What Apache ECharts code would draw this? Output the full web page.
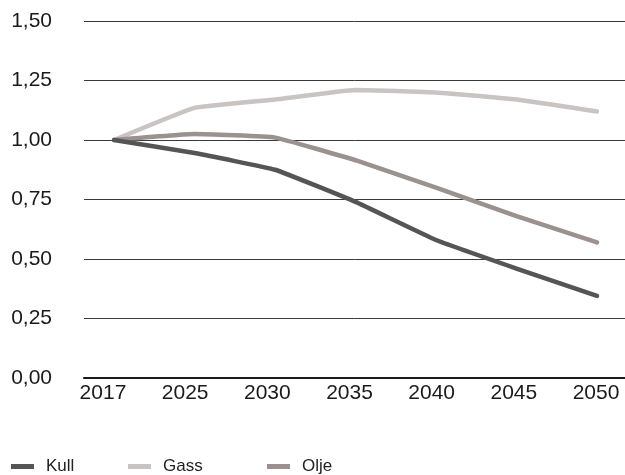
<!DOCTYPE html>
<html>
<head>
<meta charset="utf-8">
<style>
  html, body { margin: 0; padding: 0; background: #fff; }
  #chart { width: 625px; height: 475px; }
</style>
<script src="https://cdn.jsdelivr.net/npm/echarts@6/dist/echarts.min.js"></script>
</head>
<body>
<div id="chart"></div>
<script>
// Index of fuel use relative to 2017
const years = ['2017', '2025', '2030', '2035', '2040', '2045', '2050'];
const kull = [1.00, 0.945, 0.875, 0.74, 0.58, 0.46, 0.345];
const gass = [1.00, 1.135, 1.17, 1.21, 1.20, 1.17, 1.12];
const olje = [1.00, 1.025, 1.01, 0.915, 0.80, 0.68, 0.57];
const yTicks = [0, 0.25, 0.5, 0.75, 1.0, 1.25, 1.5];

const FONT = 'Liberation Sans';
const COLORS = { Kull: '#555555', Gass: '#c9c4c2', Olje: '#9b928f' };

const toPairs = arr => arr.map((v, i) => [i, v]);

function lineSeries(name, data) {
  return {
    name: name,
    type: 'line',
    xAxisIndex: 0,
    data: toPairs(data),
    symbol: 'none',
    smooth: 0.1,
    lineStyle: { width: 4.5, color: COLORS[name], cap: 'round', join: 'round' },
    itemStyle: { color: COLORS[name] }
  };
}

function legendAt(name, left) {
  return {
    data: [name],
    left: left,
    top: 458,
    padding: 0,
    icon: 'rect',
    itemWidth: 23,
    itemHeight: 5,
    textStyle: { fontFamily: FONT, fontSize: 17, color: '#222', padding: [0, 0, 0, 7] },
    selectedMode: false
  };
}

const chart = echarts.init(document.getElementById('chart'), null, { renderer: 'canvas' });

chart.setOption({
  animation: false,
  backgroundColor: '#ffffff',
  grid: { left: 84, right: 0, top: 21, bottom: 97, containLabel: false },
  legend: [legendAt('Kull', 11), legendAt('Gass', 128), legendAt('Olje', 267)],
  xAxis: [
    {
      // data axis: positions the line points
      type: 'value',
      min: -0.373,
      max: 6.348,
      interval: 1,
      axisLine: { show: true, onZero: false, lineStyle: { color: '#1a1a1a', width: 2 } },
      axisTick: { show: false },
      axisLabel: { show: false },
      splitLine: { show: false }
    },
    {
      // label axis: year captions along the bottom
      type: 'value',
      position: 'bottom',
      min: -0.231,
      max: 6.353,
      interval: 1,
      axisLine: { show: false },
      axisTick: { show: false },
      splitLine: { show: false },
      axisLabel: {
        margin: 5,
        fontFamily: FONT,
        fontSize: 21,
        color: '#1a1a1a',
        showMinLabel: true,
        showMaxLabel: true,
        customValues: years.map((_, i) => i),
        formatter: v => years[Math.round(v)] || ''
      }
    }
  ],
  yAxis: {
    type: 'value',
    min: 0,
    max: 1.5,
    interval: 0.25,
    axisLine: { show: false },
    axisTick: { show: false },
    axisLabel: {
      margin: 32,
      fontFamily: FONT,
      fontSize: 21,
      color: '#1a1a1a',
      formatter: v => {
        const t = yTicks.find(x => Math.abs(x - v) < 1e-6);
        return t === undefined ? '' : t.toFixed(2).replace('.', ',');
      }
    },
    splitLine: { show: true, lineStyle: { color: '#3a3a3a', width: 1 } }
  },
  series: [
    lineSeries('Gass', gass),
    lineSeries('Olje', olje),
    lineSeries('Kull', kull)
  ]
});
</script>
</body>
</html>
